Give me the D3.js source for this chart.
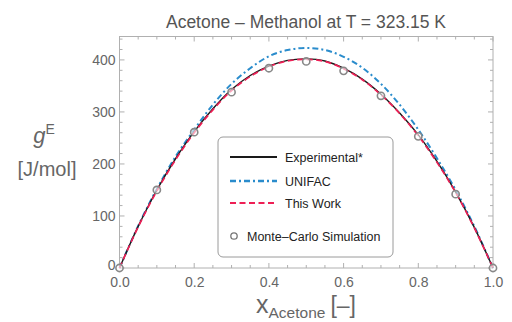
<!DOCTYPE html>
<html>
<head>
<meta charset="utf-8">
<script src="https://cdn.jsdelivr.net/npm/d3@7"></script>
<style>
  html, body { margin: 0; padding: 0; background: #fff; }
  svg { display: block; font-family: "Liberation Sans", Arial, sans-serif; }
</style>
</head>
<body>
<div id="chart"></div>
<script>
// mole fraction grid the curves were read on
const xGrid = [0, 0.05, 0.1, 0.15, 0.2, 0.25, 0.3, 0.35, 0.4, 0.45, 0.5,
  0.55, 0.6, 0.65, 0.7, 0.75, 0.8, 0.85, 0.9, 0.95, 1];

const experimental = [0, 80, 150, 210, 262, 306, 343, 370, 388, 399, 402,
  398, 384, 363, 334, 298, 256, 205, 146, 78, 0];
const unifac = [0, 81, 152, 214, 266, 314, 354, 384, 407, 419, 423,
  419, 406, 385, 354, 314, 266, 211, 150, 80, 0];
const thisWork = [0, 79, 148, 208, 260, 304, 341, 368, 387, 398, 401,
  397, 383, 362, 333, 297, 254, 203, 145, 77, 0];

const mcX = [0, 0.1, 0.2, 0.3, 0.4, 0.5, 0.6, 0.7, 0.8, 0.9, 1];
const mcY = [0, 150, 261, 338, 384, 397, 379, 331, 253, 142, 0];

const xTicks = [0, 0.2, 0.4, 0.6, 0.8, 1.0];
const yTicks = [0, 100, 200, 300, 400];

const seriesNames = ['Experimental*', 'UNIFAC', 'This Work', 'Monte\u2013Carlo Simulation'];

const width = 512, height = 322;
const frame = { left: 119.5, right: 493, top: 36.5, bottom: 268 };

const svg = d3.select('#chart').append('svg')
  .attr('width', width)
  .attr('height', height);

const x = d3.scaleLinear().domain([0, 1]).range([frame.left, frame.right]);
const y = d3.scaleLinear().domain([0, 445]).range([frame.bottom, frame.top]);

const frameColor = '#b0b0b0';
const labelColor = '#666';

// frame
svg.append('rect')
  .attr('x', frame.left).attr('y', frame.top)
  .attr('width', frame.right - frame.left)
  .attr('height', frame.bottom - frame.top)
  .attr('fill', 'none')
  .attr('stroke', frameColor)
  .attr('stroke-width', 1);

// ticks on all four sides, pointing inward (Mathematica style)
const xMinor = d3.range(0, 1.0001, 0.05);
const yMinor = d3.range(0, 441, 20);
const isMajorX = v => Math.abs(v * 5 - Math.round(v * 5)) < 1e-6;
const isMajorY = v => v % 100 === 0;

const tickG = svg.append('g').attr('stroke', frameColor).attr('stroke-width', 1);
xMinor.forEach(v => {
  const len = isMajorX(v) ? 5 : 3;
  tickG.append('line').attr('x1', x(v)).attr('x2', x(v))
    .attr('y1', frame.bottom).attr('y2', frame.bottom - len);
  tickG.append('line').attr('x1', x(v)).attr('x2', x(v))
    .attr('y1', frame.top).attr('y2', frame.top + len);
});
yMinor.forEach(v => {
  const len = isMajorY(v) ? 5 : 3;
  tickG.append('line').attr('y1', y(v)).attr('y2', y(v))
    .attr('x1', frame.left).attr('x2', frame.left + len);
  tickG.append('line').attr('y1', y(v)).attr('y2', y(v))
    .attr('x1', frame.right).attr('x2', frame.right - len);
});

// tick labels via d3 axes, tick lines hidden
const xAxis = svg.append('g')
  .attr('transform', `translate(0,${frame.bottom})`)
  .call(d3.axisBottom(x).tickValues(xTicks).tickSize(0).tickPadding(9)
    .tickFormat(d3.format('.1f')));
const yAxis = svg.append('g')
  .attr('transform', `translate(${frame.left},0)`)
  .call(d3.axisLeft(y).tickValues(yTicks).tickSize(0).tickPadding(4)
    .tickFormat(d3.format('d')));
[xAxis, yAxis].forEach(a => {
  a.select('.domain').remove();
  a.selectAll('text')
    .attr('fill', labelColor)
    .style('font-size', '14px')
    .style('font-family', '"Liberation Sans", Arial, sans-serif');
});
// lift the y "0" a little so it clears the "0.0" below it
yAxis.selectAll('.tick').filter(d => d === 0).select('text').attr('dy', '0.1em');

// curves
const line = d3.line()
  .x(d => x(d[0]))
  .y(d => y(d[1]))
  .curve(d3.curveCatmullRom);

const styles = {
  experimental: { color: '#1a1a1a', width: 1.4, dash: null },
  unifac: { color: '#2a8ccc', width: 2, dash: '6,3,2,3' },
  thisWork: { color: '#ee1f55', width: 1.7, dash: '6,3.5' }
};

function drawCurve(values, style) {
  svg.append('path')
    .datum(xGrid.map((v, i) => [v, values[i]]))
    .attr('fill', 'none')
    .attr('stroke', style.color)
    .attr('stroke-width', style.width)
    .attr('stroke-dasharray', style.dash)
    .attr('d', line);
}

drawCurve(unifac, styles.unifac);
drawCurve(experimental, styles.experimental);
drawCurve(thisWork, styles.thisWork);

// Monte-Carlo points
svg.append('g').selectAll('circle')
  .data(mcX.map((v, i) => [v, mcY[i]]))
  .join('circle')
  .attr('cx', d => x(d[0]))
  .attr('cy', d => y(d[1]))
  .attr('r', 3.6)
  .attr('fill', '#fff')
  .attr('fill-opacity', 0.6)
  .attr('stroke', '#888')
  .attr('stroke-width', 1.6);

// legend
const legend = svg.append('g');
legend.append('rect')
  .attr('x', 218).attr('y', 137)
  .attr('width', 175).attr('height', 120)
  .attr('rx', 5)
  .attr('fill', '#fff')
  .attr('stroke', '#9a9a9a')
  .attr('stroke-width', 1);

const legendRows = [
  { name: seriesNames[0], style: styles.experimental, y: 157 },
  { name: seriesNames[1], style: styles.unifac, y: 181 },
  { name: seriesNames[2], style: styles.thisWork, y: 203 }
];
legendRows.forEach(r => {
  legend.append('line')
    .attr('x1', 230).attr('x2', 277)
    .attr('y1', r.y).attr('y2', r.y)
    .attr('stroke', r.style.color)
    .attr('stroke-width', r.style.width + 0.4)
    .attr('stroke-dasharray', r.style.dash);
  legend.append('text')
    .attr('x', 285).attr('y', r.y + 4.5)
    .attr('fill', '#222')
    .style('font-size', '12.5px')
    .text(r.name);
});
legend.append('circle')
  .attr('cx', 234).attr('cy', 236)
  .attr('r', 3.2)
  .attr('fill', '#fff')
  .attr('stroke', '#777')
  .attr('stroke-width', 1.3);
legend.append('text')
  .attr('x', 247).attr('y', 240.5)
  .attr('fill', '#222')
  .style('font-size', '12.5px')
  .text(seriesNames[3]);

// title
svg.append('text')
  .attr('x', 306).attr('y', 28)
  .attr('text-anchor', 'middle')
  .attr('fill', '#555')
  .style('font-size', '17.5px')
  .text('Acetone \u2013 Methanol at T = 323.15 K');

// y label
const yLab = svg.append('text')
  .attr('x', 44).attr('y', 143)
  .attr('text-anchor', 'middle')
  .attr('fill', labelColor)
  .style('font-size', '22px');
yLab.append('tspan').style('font-style', 'italic').text('g');
yLab.append('tspan').attr('dy', -9).style('font-size', '14px').text('E');
svg.append('text')
  .attr('x', 47).attr('y', 176)
  .attr('text-anchor', 'middle')
  .attr('fill', labelColor)
  .style('font-size', '20px')
  .text('[J/mol]');

// x label
const xLab = svg.append('text')
  .attr('x', 256).attr('y', 313)
  .attr('fill', labelColor)
  .style('font-size', '25px');
xLab.append('tspan').text('x');
xLab.append('tspan').attr('dy', 5).style('font-size', '15.5px').text('Acetone');
xLab.append('tspan').attr('dy', -5).attr('dx', 5).style('font-size', '23px').text('[\u2013]');
</script>
</body>
</html>
